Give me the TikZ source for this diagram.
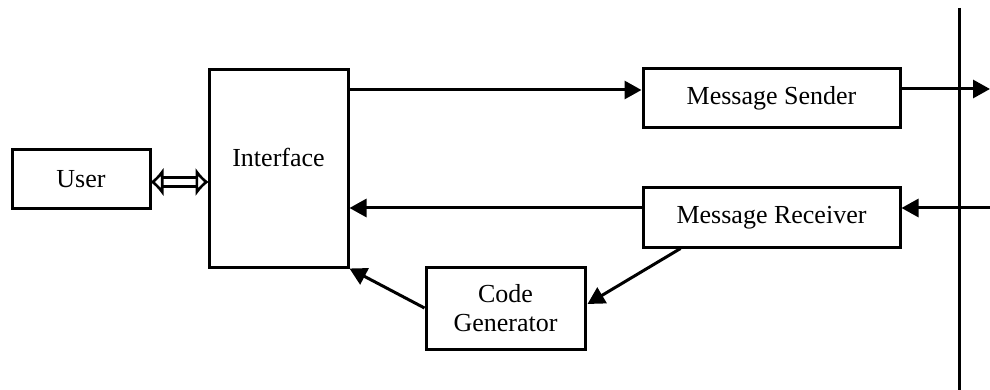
\documentclass[tikz,border=0pt]{standalone}
\usepackage{fontspec}
\setmainfont{Liberation Serif}
\usetikzlibrary{arrows.meta,calc}
\begin{document}
\begin{tikzpicture}[x=1pt,y=-1pt,
  lbl/.style={font=\fontsize{26}{29}\selectfont},
  box/.style={draw, line width=3pt, inner sep=0pt, align=center, lbl},
  conn/.style={line width=3pt, -{Triangle[length=17pt,width=18pt]}},
]
\useasboundingbox (0,0) rectangle (990,390);
\node[box, minimum width=138pt, minimum height=59pt] (user) at (81,179) {User};
\node[box, minimum width=139pt, minimum height=197pt,
  label={[lbl, yshift=11pt]center:Interface}] (iface) at (278.5,168.5) {};
\node[box, minimum width=257pt, minimum height=59pt] (send) at (771.5,98.5) {Message Sender};
\node[box, minimum width=257pt, minimum height=59pt] (recv) at (771.5,217.5) {Message Receiver};
\node[box, minimum width=159pt, minimum height=82pt] (cg) at (505.5,308) {Code\\Generator};
% network line
\coordinate (ntop) at (959,8);
\coordinate (nbot) at (959,390);
\draw[line width=3pt] (ntop) -- (nbot);
\coordinate (outS) at (990,89);
\coordinate (inR) at (990,208);
\coordinate (dA) at (0,182);
\coordinate (tA) at (0,90);
% connectors
\draw[line width=2.6pt, double=white, double distance=6pt, shorten <=-1pt, shorten >=-1pt,
  {Latex[open,length=13pt,width=30pt]}-{Latex[open,length=13pt,width=30pt]}] (user.east |- dA) -- (iface.west |- dA);
\draw[conn] (iface.east |- tA) -- (send.west |- tA);
\draw[conn] (send.east |- outS) -- (outS);
\draw[conn] (inR) -- (recv.east |- inR);
\draw[conn] (recv.west |- inR) -- (iface.east |- inR);
\draw[conn] ($(recv.south west)+(39,0)$) -- ($(cg.east)+(1,-4)$);
\draw[conn] (cg.west) -- (iface.south east);
\end{tikzpicture}
\end{document}
